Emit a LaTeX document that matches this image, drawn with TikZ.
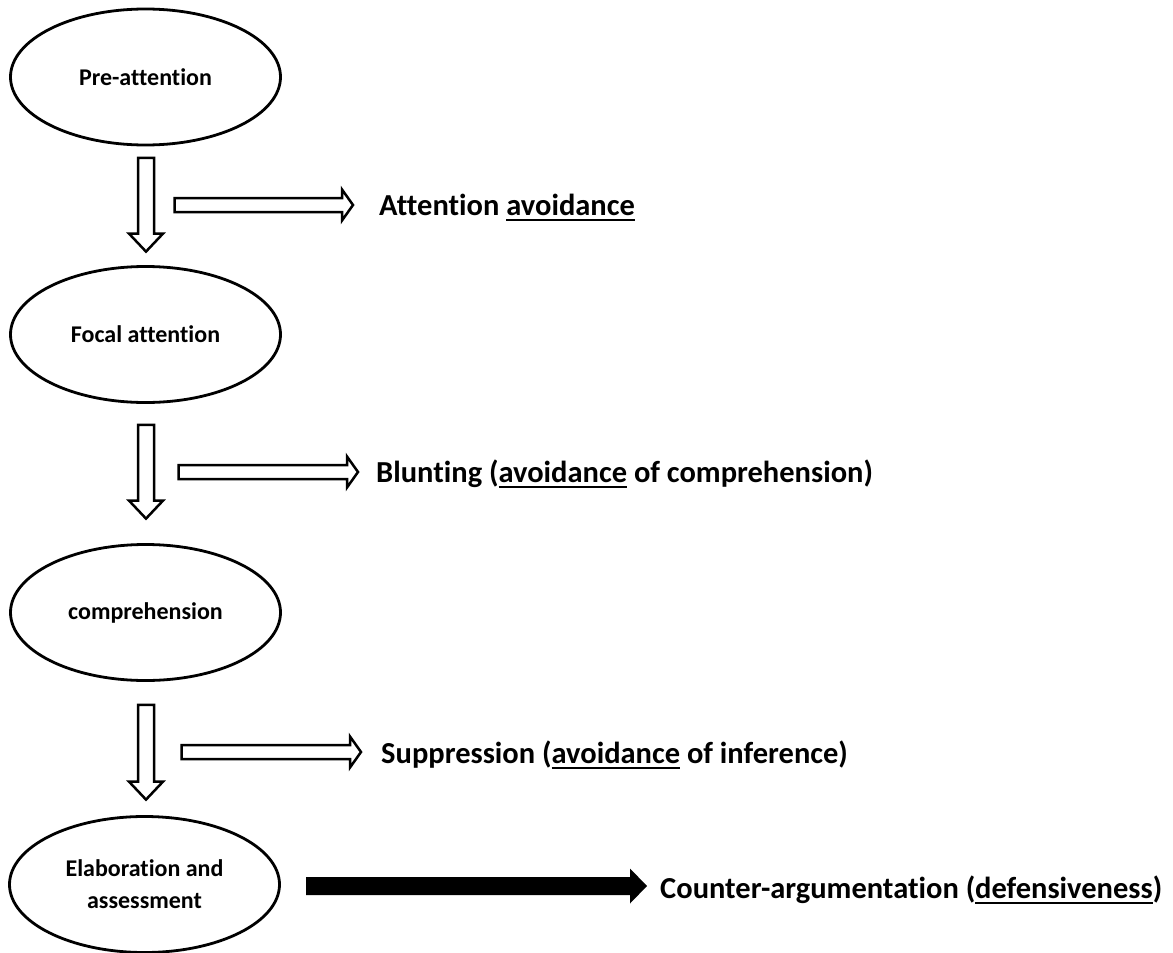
\documentclass[tikz,border=0pt]{standalone}
\usepackage{fontspec}
\setmainfont{Carlito}[Ligatures=NoCommon]
\usetikzlibrary{shapes.geometric,calc}
\newcommand\ulw[1]{\setbox0\hbox{#1}\rlap{\rule[-6pt]{\wd0}{2pt}}\box0\relax}
% vertical hollow block arrow: start (top), end (tip)
\newcommand\vblock[2]{\draw[hollow] ($(#1)+(-8,0)$) -- ($(#1)+(8,0)$) -- ($(#2)+(8,-18)$) -- ($(#2)+(17,-18)$) -- (#2) -- ($(#2)+(-17,-18)$) -- ($(#2)+(-8,-18)$) -- cycle;}
% horizontal block arrow: style, start, tip, shaft half, head half, head length
\newcommand\hblock[6]{\draw[#1] ($(#2)+(0,-#4)$) -- ($(#3)+(-#6,-#4)$) -- ($(#3)+(-#6,-#5)$) -- (#3) -- ($(#3)+(-#6,#5)$) -- ($(#3)+(-#6,#4)$) -- ($(#2)+(0,#4)$) -- cycle;}
\begin{document}
\begin{tikzpicture}[x=1pt,y=-1pt,
  stage/.style={ellipse,draw,line width=2.8pt,minimum width=270pt,minimum height=136pt,inner sep=0pt,align=center,font=\bfseries\fontsize{24}{32}\selectfont},
  lbl/.style={anchor=base west,inner sep=0pt,font=\bfseries\fontsize{30.5}{36}\selectfont},
  hollow/.style={draw,line width=2.5pt,fill=white,line join=miter},
  filledarrow/.style={fill=black,draw=none}]
\useasboundingbox (0,0) rectangle (1173,953);
\node[stage] (e1) at (145.5,77) {Pre-attention};
\node[stage] (e2) at (145.5,334.5) {Focal attention};
\node[stage] (e3) at (145.5,612.5) {comprehension};
\node[stage] (e4) at (144.5,884.5) {Elaboration and\\assessment};
\node[lbl] (l1) at (379,215) {Attention \ulw{avoidance}};
\node[lbl] (l2) at (376,482) {Blunting (\ulw{avoidance} of comprehension)};
\node[lbl] (l3) at (381,763) {Suppression (\ulw{avoidance} of inference)};
\node[lbl] (l4) at (660,898) {Counter-argumentation (\ulw{defensiveness})};
\coordinate (a1s) at ($(e1.south)+(0.5,11.5)$);
\coordinate (a1e) at ($(e2.north)+(0.5,-13.5)$);
\coordinate (a2s) at ($(e2.south)+(0.5,21)$);
\coordinate (a2e) at ($(e3.north)+(0.5,-24.5)$);
\coordinate (a3s) at ($(e3.south)+(0.5,23)$);
\coordinate (a3e) at ($(e4.north)+(1.5,-15.5)$);
\vblock{a1s}{a1e}
\vblock{a2s}{a2e}
\vblock{a3s}{a3e}
\coordinate (h1s) at (174.5,205);
\coordinate (h1e) at (353,205);
\coordinate (h2s) at (178.5,472);
\coordinate (h2e) at (358,472);
\coordinate (h3s) at (181.5,752);
\coordinate (h3e) at (361,752);
\hblock{hollow}{h1s}{h1e}{7}{15.5}{11}
\hblock{hollow}{h2s}{h2e}{7}{15.5}{11}
\hblock{hollow}{h3s}{h3e}{7}{15.5}{11}
\coordinate (bs) at (306,886);
\coordinate (be) at (647,886);
\hblock{filledarrow}{bs}{be}{9}{17.5}{17}
\end{tikzpicture}
\end{document}
